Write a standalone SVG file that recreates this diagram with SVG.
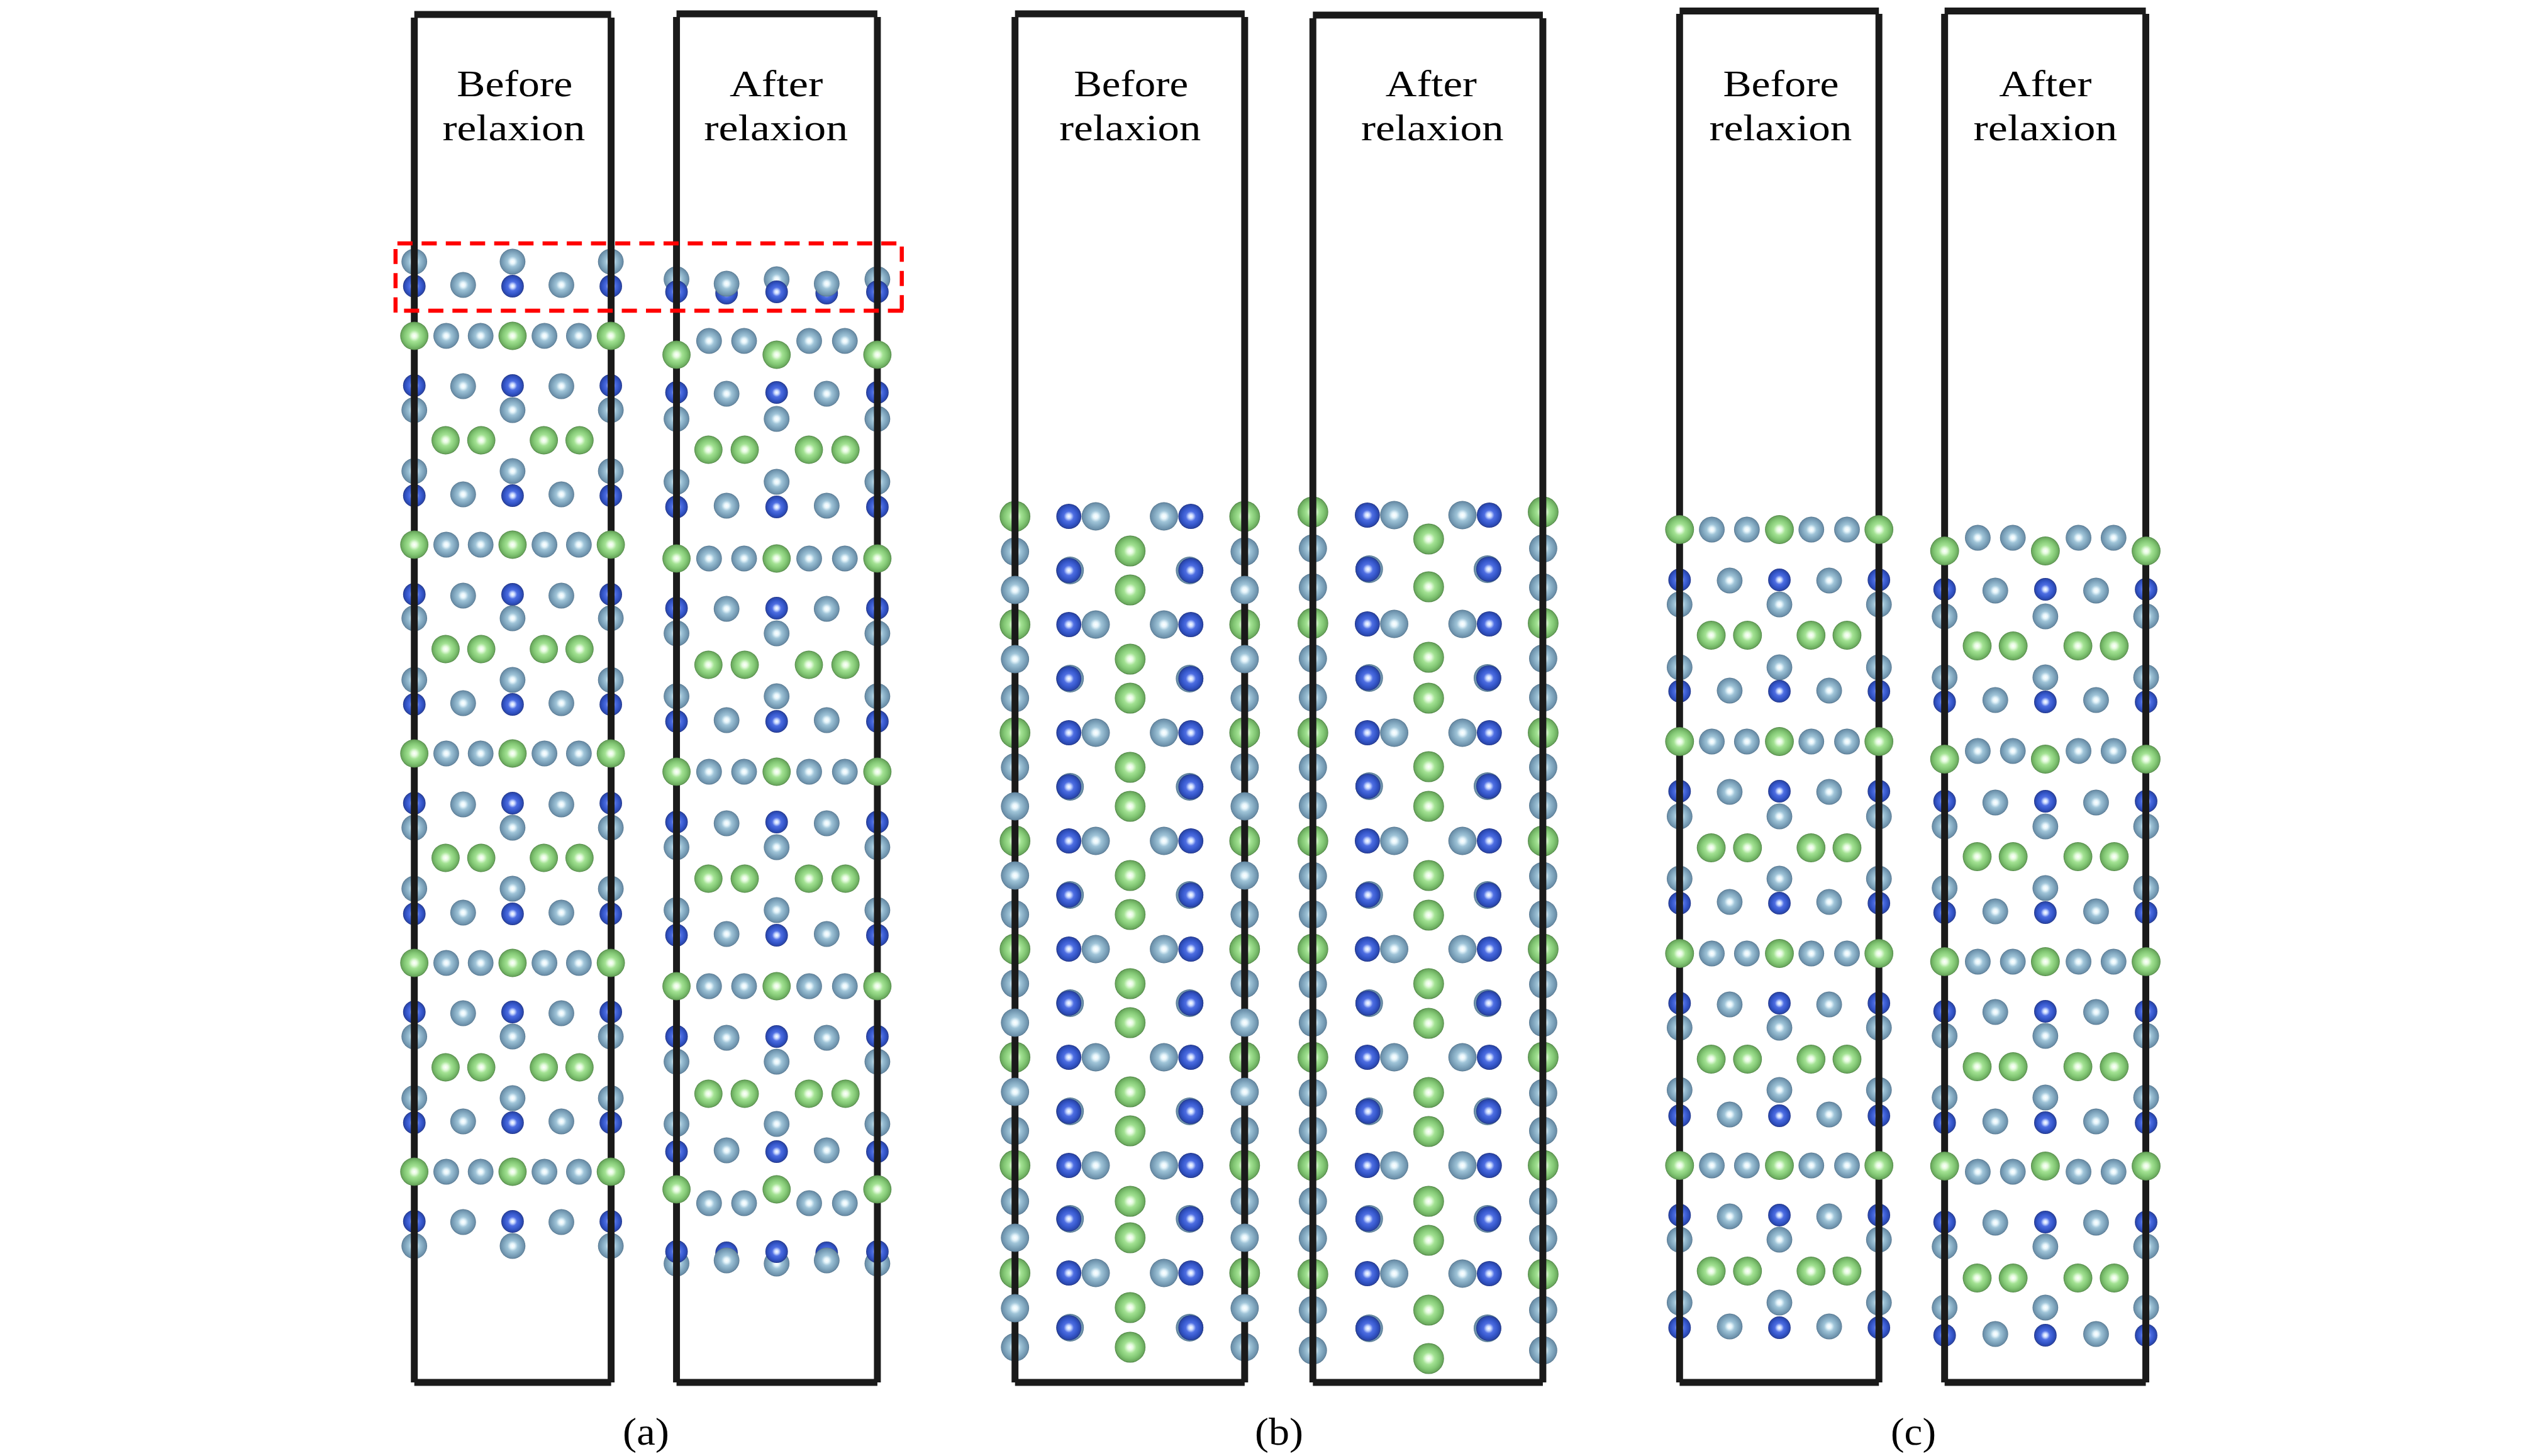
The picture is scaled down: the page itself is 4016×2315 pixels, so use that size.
<svg xmlns="http://www.w3.org/2000/svg" xmlns:xlink="http://www.w3.org/1999/xlink" width="4016" height="2315" viewBox="0 0 4016 2315">
<style>
.g{fill:url(#gr)}.n{fill:url(#gn)}.b{fill:url(#bl)}
.fr{fill:none;stroke:#1a1a1a;stroke-width:11}
.t{font-family:"Liberation Serif","Times New Roman",serif;font-size:60px;fill:#000}
.c{font-size:62px}
.red{fill:none;stroke:#f00;stroke-width:6.5;stroke-dasharray:24.2 14.46}
</style>
<defs>
<radialGradient id="gr"><stop offset="0" stop-color="#fff"/><stop offset=".18" stop-color="#e6f5fb"/><stop offset=".4" stop-color="#9fc4d8"/><stop offset=".72" stop-color="#7ea4bc"/><stop offset=".93" stop-color="#6a8ea8"/><stop offset="1" stop-color="#4f7088"/></radialGradient>
<radialGradient id="gn"><stop offset="0" stop-color="#fff"/><stop offset=".18" stop-color="#e6fbdf"/><stop offset=".4" stop-color="#a3e293"/><stop offset=".72" stop-color="#81c673"/><stop offset=".93" stop-color="#6aa85d"/><stop offset="1" stop-color="#4a8040"/></radialGradient>
<radialGradient id="bl"><stop offset="0" stop-color="#fff"/><stop offset=".18" stop-color="#c8d8ff"/><stop offset=".4" stop-color="#4e6ee2"/><stop offset=".72" stop-color="#3355c8"/><stop offset=".93" stop-color="#2a45a8"/><stop offset="1" stop-color="#1d3080"/></radialGradient>

<g id="a1g3" class="n"><circle cx="659" r="22.5"/><circle cx="816" r="22.5"/><circle cx="973" r="22.5"/></g>
<g id="a1h4" class="g"><circle cx="710" r="20.5"/><circle cx="765" r="20.5"/><circle cx="867" r="20.5"/><circle cx="922" r="20.5"/></g>
<g id="a1b3" class="b"><circle cx="659" r="18"/><circle cx="816" r="18"/><circle cx="973" r="18"/></g>
<g id="a1m2" class="g"><circle cx="737" r="20.5"/><circle cx="894" r="20.5"/></g>
<g id="a1e3" class="g"><circle cx="659" r="20.5"/><circle cx="816" r="20.5"/><circle cx="973" r="20.5"/></g>
<g id="a1f4" class="n"><circle cx="709" r="22.5"/><circle cx="766" r="22.5"/><circle cx="866" r="22.5"/><circle cx="923" r="22.5"/></g>

<g id="a2g3" class="n"><circle cx="1078" r="22.5"/><circle cx="1238" r="22.5"/><circle cx="1399" r="22.5"/></g>
<g id="a2h4" class="g"><circle cx="1130" r="20.5"/><circle cx="1186" r="20.5"/><circle cx="1290" r="20.5"/><circle cx="1347" r="20.5"/></g>
<g id="a2b3" class="b"><circle cx="1078" r="18"/><circle cx="1238" r="18"/><circle cx="1399" r="18"/></g>
<g id="a2bm" class="b"><circle cx="1158" r="18"/><circle cx="1318" r="18"/></g>
<g id="a2m2" class="g"><circle cx="1158" r="20.5"/><circle cx="1318" r="20.5"/></g>
<g id="a2e3" class="g"><circle cx="1078" r="20.5"/><circle cx="1238" r="20.5"/><circle cx="1399" r="20.5"/></g>
<g id="a2f4" class="n"><circle cx="1129" r="22.5"/><circle cx="1187" r="22.5"/><circle cx="1289.5" r="22.5"/><circle cx="1348" r="22.5"/></g>

<g id="b1g2" class="n"><circle cx="1614" r="24.5"/><circle cx="1981" r="24.5"/></g>
<g id="b1r" ><circle class="b" cx="1700" r="20"/><circle class="g" cx="1743" r="22.5"/><circle class="g" cx="1852" r="22.5"/><circle class="b" cx="1895" r="20"/></g>
<g id="b1d"><circle class="g" cx="1702" r="22"/><circle class="g" cx="1893" r="22"/><circle class="b" cx="1700" r="20"/><circle class="b" cx="1895" r="20"/></g>
<g id="b1e" class="g"><circle cx="1614" r="22.5"/><circle cx="1981" r="22.5"/></g>
<circle id="b1f" class="n" cx="1798" r="24.5"/>

<g id="b2g2" class="n"><circle cx="2090" r="24.5"/><circle cx="2458" r="24.5"/></g>
<g id="b2r"><circle class="b" cx="2177" r="20"/><circle class="g" cx="2220" r="22.5"/><circle class="g" cx="2329" r="22.5"/><circle class="b" cx="2372" r="20"/></g>
<g id="b2d"><circle class="g" cx="2180" r="22"/><circle class="g" cx="2369" r="22"/><circle class="b" cx="2178" r="20"/><circle class="b" cx="2371" r="20"/></g>
<g id="b2e" class="g"><circle cx="2090" r="22.5"/><circle cx="2458" r="22.5"/></g>
<circle id="b2f" class="n" cx="2275" r="24.5"/>

<g id="c1g3" class="n"><circle cx="2670.5" r="23"/><circle cx="2830" r="23"/><circle cx="2989" r="23"/></g>
<g id="c1h4" class="g"><circle cx="2722" r="20.5"/><circle cx="2778" r="20.5"/><circle cx="2881" r="20.5"/><circle cx="2938" r="20.5"/></g>
<g id="c1b3" class="b"><circle cx="2670.5" r="18"/><circle cx="2830" r="18"/><circle cx="2989" r="18"/></g>
<g id="c1m2" class="g"><circle cx="2750.5" r="20.5"/><circle cx="2909.5" r="20.5"/></g>
<g id="c1e3" class="g"><circle cx="2670.5" r="20.5"/><circle cx="2830" r="20.5"/><circle cx="2989" r="20.5"/></g>
<g id="c1f4" class="n"><circle cx="2721" r="23"/><circle cx="2779" r="23"/><circle cx="2880.5" r="23"/><circle cx="2938" r="23"/></g>

<g id="c2g3" class="n"><circle cx="3094" r="23"/><circle cx="3255" r="23"/><circle cx="3416" r="23"/></g>
<g id="c2h4" class="g"><circle cx="3147" r="20.5"/><circle cx="3203" r="20.5"/><circle cx="3308" r="20.5"/><circle cx="3364" r="20.5"/></g>
<g id="c2b3" class="b"><circle cx="3094" r="18"/><circle cx="3255" r="18"/><circle cx="3416" r="18"/></g>
<g id="c2m2" class="g"><circle cx="3175" r="20.5"/><circle cx="3336" r="20.5"/></g>
<g id="c2e3" class="g"><circle cx="3094" r="20.5"/><circle cx="3255" r="20.5"/><circle cx="3416" r="20.5"/></g>
<g id="c2f4" class="n"><circle cx="3146" r="23"/><circle cx="3203.5" r="23"/><circle cx="3307" r="23"/><circle cx="3365" r="23"/></g>
</defs>
<rect width="4016" height="2315" fill="#fff"/>

<g id="panel-a-before" transform="matrix(.9949 0 0 1 3.06 0)">
<use href="#a1e3" y="416"/><use href="#a1b3" y="455"/><use href="#a1m2" y="453"/>
<use href="#a1h4" y="534"/><use href="#a1b3" y="613"/><use href="#a1m2" y="614"/><use href="#a1e3" y="652"/><use href="#a1f4" y="700"/><use href="#a1e3" y="749"/><use href="#a1b3" y="788"/><use href="#a1m2" y="786"/>
<use href="#a1h4" y="866"/><use href="#a1b3" y="945"/><use href="#a1m2" y="947"/><use href="#a1e3" y="983"/><use href="#a1f4" y="1032"/><use href="#a1e3" y="1081"/><use href="#a1b3" y="1120"/><use href="#a1m2" y="1118"/>
<use href="#a1h4" y="1198"/><use href="#a1b3" y="1277"/><use href="#a1m2" y="1279"/><use href="#a1e3" y="1316"/><use href="#a1f4" y="1364"/><use href="#a1e3" y="1413"/><use href="#a1b3" y="1453"/><use href="#a1m2" y="1451"/>
<use href="#a1h4" y="1531"/><use href="#a1b3" y="1609"/><use href="#a1m2" y="1611"/><use href="#a1e3" y="1648"/><use href="#a1f4" y="1697"/><use href="#a1e3" y="1746"/><use href="#a1b3" y="1785"/><use href="#a1m2" y="1783"/>
<use href="#a1h4" y="1863"/><use href="#a1b3" y="1942"/><use href="#a1m2" y="1943"/><use href="#a1e3" y="1981"/>
<path class="fr" d="M659 28V2198M973.500 28V2198M659 23H973.500M659 2198H973.500"/>
<use href="#a1g3" y="534"/><use href="#a1g3" y="866"/><use href="#a1g3" y="1198"/><use href="#a1g3" y="1531"/><use href="#a1g3" y="1863"/>
<text class="t" x="727" y="153" textLength="185" lengthAdjust="spacingAndGlyphs">Before</text>
<text class="t" x="704" y="223" textLength="228" lengthAdjust="spacingAndGlyphs">relaxion</text>
</g>

<g id="panel-a-after" transform="matrix(.9949 0 0 1 3.06 0)">
<use href="#a2bm" y="466"/><use href="#a2e3" y="444"/><use href="#a2m2" y="451"/><use href="#a2b3" y="464"/>
<use href="#a2h4" y="542"/><use href="#a2b3" y="624"/><use href="#a2m2" y="626"/><use href="#a2e3" y="666"/><use href="#a2f4" y="715"/><use href="#a2e3" y="766"/><use href="#a2b3" y="806"/><use href="#a2m2" y="804"/>
<use href="#a2h4" y="888"/><use href="#a2b3" y="967"/><use href="#a2m2" y="968"/><use href="#a2e3" y="1007"/><use href="#a2f4" y="1057"/><use href="#a2e3" y="1107"/><use href="#a2b3" y="1147"/><use href="#a2m2" y="1145"/>
<use href="#a2h4" y="1227"/><use href="#a2b3" y="1307"/><use href="#a2m2" y="1309"/><use href="#a2e3" y="1347"/><use href="#a2f4" y="1397"/><use href="#a2e3" y="1447"/><use href="#a2b3" y="1487"/><use href="#a2m2" y="1485"/>
<use href="#a2h4" y="1568"/><use href="#a2b3" y="1648"/><use href="#a2m2" y="1650"/><use href="#a2e3" y="1688"/><use href="#a2f4" y="1739"/><use href="#a2e3" y="1787"/><use href="#a2b3" y="1831"/><use href="#a2m2" y="1829"/>
<use href="#a2h4" y="1913"/><use href="#a2bm" y="1992"/><use href="#a2m2" y="2004"/><use href="#a2e3" y="2009"/><use href="#a2b3" y="1990"/>
<path class="fr" d="M1078 27V2198M1399 27V2198M1078 22H1399M1078 2198H1399"/>
<use href="#a2g3" y="564"/><use href="#a2g3" y="888"/><use href="#a2g3" y="1227"/><use href="#a2g3" y="1568"/><use href="#a2g3" y="1891"/>
<text class="t" x="1163" y="153" textLength="149" lengthAdjust="spacingAndGlyphs">After</text>
<text class="t" x="1122" y="223" textLength="230" lengthAdjust="spacingAndGlyphs">relaxion</text>
</g>

<g id="panel-b-before" transform="matrix(.9949 0 0 1 7.96 0)">
<use href="#b1g2" y="821"/><use href="#b1r" y="821"/><use href="#b1f" y="876"/><use href="#b1e" y="877"/><use href="#b1d" y="907"/><use href="#b1f" y="938"/>
<use href="#b1g2" y="993"/><use href="#b1r" y="993"/><use href="#b1f" y="1048"/><use href="#b1d" y="1079"/><use href="#b1f" y="1110"/><use href="#b1e" y="1110"/>
<use href="#b1g2" y="1165"/><use href="#b1r" y="1165"/><use href="#b1f" y="1220"/><use href="#b1e" y="1220"/><use href="#b1d" y="1251"/><use href="#b1f" y="1282"/>
<use href="#b1g2" y="1337"/><use href="#b1r" y="1337"/><use href="#b1f" y="1392"/><use href="#b1d" y="1423"/><use href="#b1f" y="1454"/><use href="#b1e" y="1454"/>
<use href="#b1g2" y="1509"/><use href="#b1r" y="1509"/><use href="#b1f" y="1564"/><use href="#b1e" y="1564"/><use href="#b1d" y="1595"/><use href="#b1f" y="1626"/>
<use href="#b1g2" y="1681"/><use href="#b1r" y="1681"/><use href="#b1f" y="1736"/><use href="#b1d" y="1767"/><use href="#b1f" y="1798"/><use href="#b1e" y="1798"/>
<use href="#b1g2" y="1853"/><use href="#b1r" y="1853"/><use href="#b1f" y="1910"/><use href="#b1e" y="1910"/><use href="#b1d" y="1938"/><use href="#b1f" y="1968"/>
<use href="#b1g2" y="2024"/><use href="#b1r" y="2024"/><use href="#b1f" y="2079"/><use href="#b1d" y="2111"/><use href="#b1f" y="2142"/><use href="#b1e" y="2142"/>
<path class="fr" d="M1614 27V2198M1981 27V2198M1614 22H1981M1614 2198H1981"/>
<use href="#b1e" y="938"/><use href="#b1e" y="1048"/><use href="#b1e" y="1282"/><use href="#b1e" y="1392"/><use href="#b1e" y="1626"/><use href="#b1e" y="1736"/><use href="#b1e" y="1968"/><use href="#b1e" y="2080"/>
<text class="t" x="1708" y="153" textLength="183" lengthAdjust="spacingAndGlyphs">Before</text>
<text class="t" x="1685" y="223" textLength="226" lengthAdjust="spacingAndGlyphs">relaxion</text>
</g>

<g id="panel-b-after" transform="matrix(.9949 0 0 1 7.96 0)">
<use href="#b2g2" y="814"/><use href="#b2r" y="819"/><use href="#b2f" y="857"/><use href="#b2e" y="872"/><use href="#b2d" y="905"/><use href="#b2f" y="933"/><use href="#b2e" y="934"/>
<use href="#b2g2" y="991"/><use href="#b2r" y="992"/><use href="#b2f" y="1045"/><use href="#b2e" y="1047"/><use href="#b2d" y="1078"/><use href="#b2f" y="1110"/><use href="#b2e" y="1109"/>
<use href="#b2g2" y="1165"/><use href="#b2r" y="1165"/><use href="#b2f" y="1219"/><use href="#b2e" y="1220"/><use href="#b2d" y="1250"/><use href="#b2f" y="1282"/><use href="#b2e" y="1281"/>
<use href="#b2g2" y="1337"/><use href="#b2r" y="1337"/><use href="#b2f" y="1392"/><use href="#b2e" y="1393"/><use href="#b2d" y="1423"/><use href="#b2f" y="1455"/><use href="#b2e" y="1454"/>
<use href="#b2g2" y="1509"/><use href="#b2r" y="1509"/><use href="#b2f" y="1564"/><use href="#b2e" y="1565"/><use href="#b2d" y="1595"/><use href="#b2f" y="1627"/><use href="#b2e" y="1626"/>
<use href="#b2g2" y="1681"/><use href="#b2r" y="1681"/><use href="#b2f" y="1737"/><use href="#b2e" y="1738"/><use href="#b2d" y="1767"/><use href="#b2f" y="1799"/><use href="#b2e" y="1798"/>
<use href="#b2g2" y="1853"/><use href="#b2r" y="1853"/><use href="#b2f" y="1910"/><use href="#b2e" y="1910"/><use href="#b2d" y="1938"/><use href="#b2f" y="1972"/><use href="#b2e" y="1969"/>
<use href="#b2g2" y="2026"/><use href="#b2r" y="2025"/><use href="#b2f" y="2083"/><use href="#b2e" y="2083"/><use href="#b2d" y="2112"/><use href="#b2f" y="2160"/><use href="#b2e" y="2147"/>
<path class="fr" d="M2090 29V2198M2457.500 29V2198M2090 24H2457.500M2090 2198H2457.500"/>
<text class="t" x="2206" y="153" textLength="146" lengthAdjust="spacingAndGlyphs">After</text>
<text class="t" x="2167" y="223" textLength="228" lengthAdjust="spacingAndGlyphs">relaxion</text>
</g>

<g id="panel-c-before" transform="matrix(.9949 0 0 1 13.46 0)">
<use href="#c1h4" y="842"/><use href="#c1b3" y="922"/><use href="#c1m2" y="923"/><use href="#c1e3" y="961"/><use href="#c1f4" y="1010"/><use href="#c1e3" y="1061"/><use href="#c1b3" y="1099"/><use href="#c1m2" y="1098"/>
<use href="#c1h4" y="1179"/><use href="#c1b3" y="1258"/><use href="#c1m2" y="1259"/><use href="#c1e3" y="1298"/><use href="#c1f4" y="1348"/><use href="#c1e3" y="1397"/><use href="#c1b3" y="1436"/><use href="#c1m2" y="1434"/>
<use href="#c1h4" y="1516"/><use href="#c1b3" y="1595"/><use href="#c1m2" y="1597"/><use href="#c1e3" y="1634"/><use href="#c1f4" y="1684"/><use href="#c1e3" y="1733"/><use href="#c1b3" y="1774"/><use href="#c1m2" y="1772"/>
<use href="#c1h4" y="1853"/><use href="#c1b3" y="1932"/><use href="#c1m2" y="1934"/><use href="#c1e3" y="1971"/><use href="#c1f4" y="2021"/><use href="#c1e3" y="2071"/><use href="#c1b3" y="2111"/><use href="#c1m2" y="2109"/>
<path class="fr" d="M2670.500 22V2198M2989 22V2198M2670.500 17.500H2989M2670.500 2198H2989"/>
<use href="#c1g3" y="842"/><use href="#c1g3" y="1179"/><use href="#c1g3" y="1516"/><use href="#c1g3" y="1853"/>
<text class="t" x="2740" y="153" textLength="185" lengthAdjust="spacingAndGlyphs">Before</text>
<text class="t" x="2718" y="223" textLength="228" lengthAdjust="spacingAndGlyphs">relaxion</text>
</g>

<g id="panel-c-after" transform="matrix(.9949 0 0 1 13.46 0)">
<use href="#c2h4" y="855"/><use href="#c2b3" y="937"/><use href="#c2m2" y="939"/><use href="#c2e3" y="980"/><use href="#c2f4" y="1027"/><use href="#c2e3" y="1077"/><use href="#c2b3" y="1116"/><use href="#c2m2" y="1113"/>
<use href="#c2h4" y="1194"/><use href="#c2b3" y="1274"/><use href="#c2m2" y="1276"/><use href="#c2e3" y="1314"/><use href="#c2f4" y="1362"/><use href="#c2e3" y="1412"/><use href="#c2b3" y="1451"/><use href="#c2m2" y="1449"/>
<use href="#c2h4" y="1529"/><use href="#c2b3" y="1608"/><use href="#c2m2" y="1609"/><use href="#c2e3" y="1647"/><use href="#c2f4" y="1696"/><use href="#c2e3" y="1745"/><use href="#c2b3" y="1785"/><use href="#c2m2" y="1783"/>
<use href="#c2h4" y="1863"/><use href="#c2b3" y="1943"/><use href="#c2m2" y="1944"/><use href="#c2e3" y="1982"/><use href="#c2f4" y="2032"/><use href="#c2e3" y="2079"/><use href="#c2b3" y="2123"/><use href="#c2m2" y="2121"/>
<path class="fr" d="M3094 22V2198M3415.500 22V2198M3094 17.500H3415.500M3094 2198H3415.500"/>
<use href="#c2g3" y="876"/><use href="#c2g3" y="1207"/><use href="#c2g3" y="1529"/><use href="#c2g3" y="1854"/>
<text class="t" x="3181" y="153" textLength="148" lengthAdjust="spacingAndGlyphs">After</text>
<text class="t" x="3140" y="223" textLength="230" lengthAdjust="spacingAndGlyphs">relaxion</text>
</g>

<path id="highlight" class="red" transform="matrix(.9949 0 0 1 3.06 0)" d="M632 387H1438M1438 392V494M1440 494H629M629 497V396"/>

<g id="captions">
<text class="t c" x="990" y="2297" textLength="74" lengthAdjust="spacingAndGlyphs">(a)</text>
<text class="t c" x="1995" y="2297" textLength="77" lengthAdjust="spacingAndGlyphs">(b)</text>
<text class="t c" x="3006" y="2297" textLength="72" lengthAdjust="spacingAndGlyphs">(c)</text>
</g>
</svg>
